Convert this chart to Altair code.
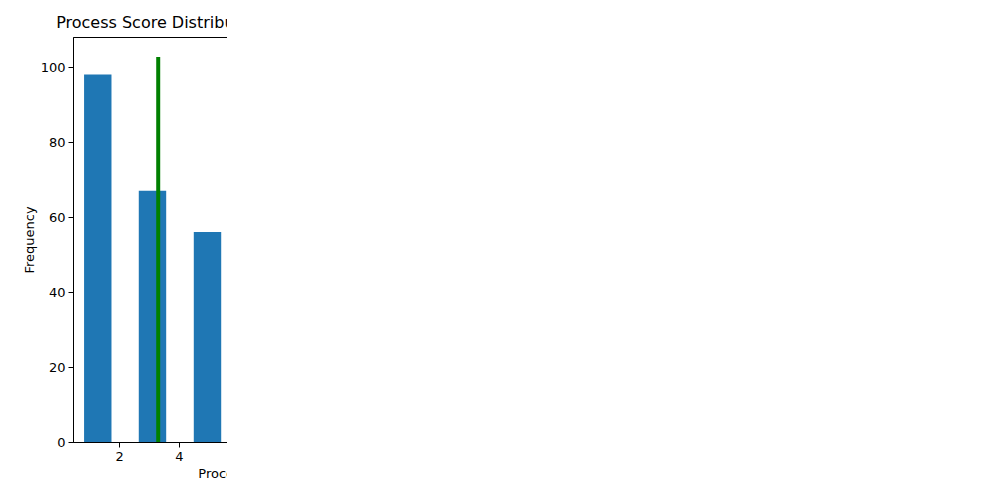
import altair as alt
import pandas as pd

# Left panel (all partners)
l_left = [0.83, 2.66, 4.50, 7.25, 9.08]
l_count = [98, 67, 56, 21, 5]
l_width = 0.917
l_mean = 3.31
l_line_top = 102.7

# Right panel (Russia & NIS)
r_left = [1.70, 2.81, 4.48, 6.70]
r_count = [6, 2, 6, 1]
r_width = 0.556
r_mean = 3.29
r_line_top = 6.29

FONT = "DejaVu Sans"

def panel(lefts, counts, width, mean, top, xdom, ydom, title, xticks, yticks):
    df = pd.DataFrame({"x": lefts, "x2": [v + width for v in lefts], "y": counts, "y0": [0] * len(counts)})
    line = pd.DataFrame({"m": [mean], "y0": [0], "y1": [top]})
    xs = alt.Scale(domain=xdom, nice=False, zero=False)
    ys = alt.Scale(domain=ydom, nice=False)
    bars = alt.Chart(df).mark_bar(color="#1f77b4").encode(
        x=alt.X("x:Q", scale=xs, title="Process", axis=alt.Axis(values=xticks)),
        x2="x2:Q",
        y=alt.Y("y:Q", scale=ys, title="Frequency", axis=alt.Axis(values=yticks)),
        y2="y0:Q",
    )
    rule = alt.Chart(line).mark_rule(color="green", strokeWidth=4).encode(
        x=alt.X("m:Q", scale=xs), y=alt.Y("y0:Q", scale=ys), y2="y1:Q"
    )
    return (bars + rule).properties(width=299, height=405, title=title)

left = panel(l_left, l_count, l_width, l_mean, l_line_top, [0.46, 10.46], [0, 108],
             "Process Score Distribution for all partners", [2, 4, 6, 8, 10], [0, 20, 40, 60, 80, 100])
right = panel(r_left, r_count, r_width, r_mean, r_line_top, [1.41, 7.55], [0, 6.62],
              "Process Score Distribution for all partners in Russia and the Newly Independent States",
              [2, 3, 4, 5, 6, 7], [0, 1, 2, 3, 4, 5, 6])

chart = alt.hconcat(left, right, spacing=165).properties(
    autosize=alt.AutoSizeParams(type="none"),
    padding={"left": 65, "top": 29, "right": 154, "bottom": 50},
).configure_view(stroke="black", strokeWidth=1).configure_axis(
    grid=False, domainColor="black", tickColor="black", labelColor="black",
    titleColor="black", labelFont=FONT, titleFont=FONT, labelFontSize=13,
    titleFontSize=13, titleFontWeight="normal", tickSize=5, labelPadding=3,
).configure_title(font=FONT, fontSize=16, fontWeight="normal", color="black", offset=6)

chart.save("out.html", embed_options={"renderer": "svg", "actions": False})
